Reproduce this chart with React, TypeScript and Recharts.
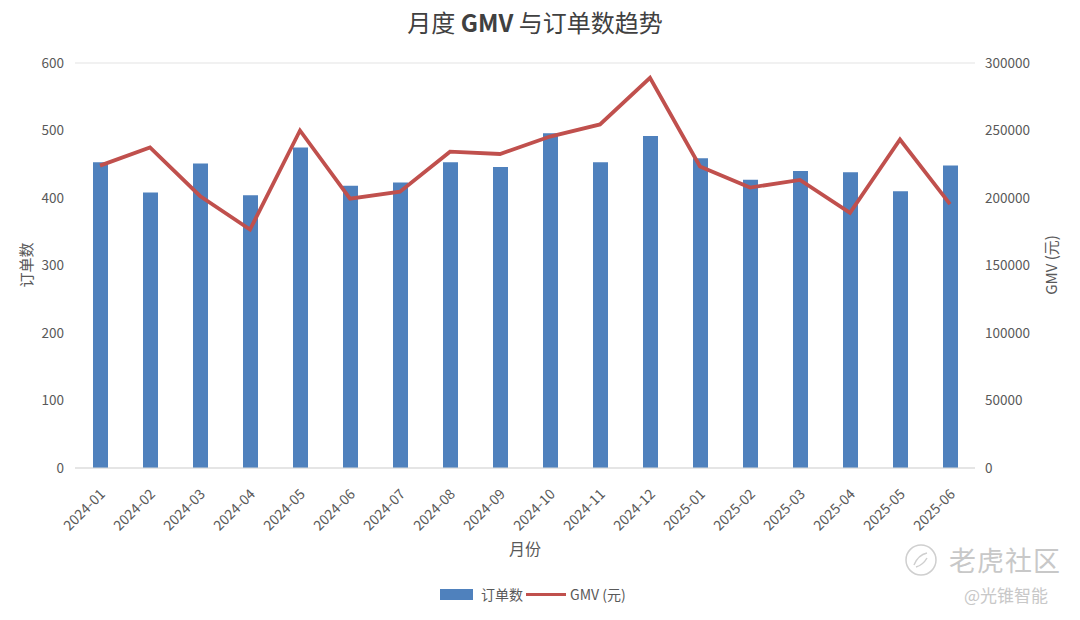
import {
  Bar,
  CartesianGrid,
  ComposedChart,
  Line,
  XAxis,
  YAxis
} from "recharts";

const months = [
  "2024-01", "2024-02", "2024-03", "2024-04", "2024-05", "2024-06",
  "2024-07", "2024-08", "2024-09", "2024-10", "2024-11", "2024-12",
  "2025-01", "2025-02", "2025-03", "2025-04", "2025-05", "2025-06"
];
const orders = [453, 408, 451, 404, 475, 418, 423, 453, 446, 496, 453, 492, 459, 427, 440, 438, 410, 448];
const gmv = [
  224000, 237500, 201500, 176600, 250000, 199500, 204700, 234300, 232600,
  245500, 254500, 289000, 223400, 207700, 213400, 189000, 243300, 195500
];
const orderTicks = [0, 100, 200, 300, 400, 500, 600];
const gmvTicks = [0, 50000, 100000, 150000, 200000, 250000, 300000];

const FONT = '"Noto Sans CJK SC", "Noto Sans", sans-serif';
const BLUE = "#4f81bd";
const RED = "#c0504d";
const TEXT = "#595959";

const data = months.map((m, i) => ({ month: m, orders: orders[i], gmv: gmv[i] }));

function MonthTick({ x, y, payload }: any): JSX.Element {
  return (
    <text
      x={x + 6}
      y={y + 19}
      transform={`rotate(-45, ${x + 6}, ${y + 19})`}
      textAnchor="end"
      fontSize={14}
      fill={TEXT}
      fontFamily={FONT}
    >
      {payload.value}
    </text>
  );
}

export default function App(): JSX.Element {
  return (
    <div style={{ position: "absolute", left: 0, top: 0, width: 1080, height: 620, background: "#fff", fontFamily: FONT }}>
      <div style={{ position: "absolute", top: 4, left: 0, width: 1070, textAlign: "center", fontSize: 24, color: "#404040" }}>
        月度 <b>GMV</b> 与订单数趋势
      </div>
      <ComposedChart width={1080} height={620} data={data} margin={{ top: 63, right: 12, bottom: 52, left: 12 }}>
        <CartesianGrid vertical={false} stroke="#e3e3e3" />
        <XAxis
          dataKey="month"
          interval={0}
          height={100}
          tickLine={false}
          axisLine={{ stroke: "#d9d9d9" }}
          tick={<MonthTick />}
        />
        <YAxis
          yAxisId="left"
          width={63}
          domain={[0, 600]}
          ticks={orderTicks}
          axisLine={false}
          tickLine={false}
          tickSize={0}
          tickMargin={11}
          tick={{ fontSize: 13.5, fill: TEXT, fontFamily: FONT }}
        />
        <YAxis
          yAxisId="right"
          orientation="right"
          width={93}
          domain={[0, 300000]}
          ticks={gmvTicks}
          axisLine={false}
          tickLine={false}
          tickSize={0}
          tickMargin={10}
          tick={{ fontSize: 13.5, fill: TEXT, fontFamily: FONT, textAnchor: "start" }}
        />
        <Bar yAxisId="left" dataKey="orders" name="订单数" fill={BLUE} barSize={15} isAnimationActive={false} />
        <Line
          yAxisId="right"
          dataKey="gmv"
          name="GMV (元)"
          stroke={RED}
          strokeWidth={3.8}
          dot={false}
          type="linear"
          isAnimationActive={false}
        />
      </ComposedChart>
      <div style={{ position: "absolute", left: 25, top: 265, transform: "translate(-50%, -50%) rotate(-90deg)", fontSize: 15, color: TEXT, whiteSpace: "nowrap" }}>
        订单数
      </div>
      <div style={{ position: "absolute", left: 1050, top: 265, transform: "translate(-50%, -50%) rotate(-90deg)", fontSize: 15, color: TEXT, whiteSpace: "nowrap" }}>
        GMV (元)
      </div>
      <div style={{ position: "absolute", left: 0, top: 536, width: 1050, textAlign: "center", fontSize: 16, color: TEXT }}>
        月份
      </div>
      <div style={{ position: "absolute", top: 584, left: 440, display: "flex", alignItems: "center", fontSize: 14, color: TEXT }}>
        <span style={{ display: "inline-block", width: 33, height: 11, background: BLUE, marginRight: 8 }} />
        <span>订单数</span>
        <span style={{ display: "inline-block", width: 40, height: 3, background: RED, margin: "0 4px 0 3px" }} />
        <span>GMV (元)</span>
      </div>
      <div style={{ position: "absolute", left: 904, top: 540, display: "flex", alignItems: "center", color: "#c8c8c8" }}>
        <svg width={34} height={34}>
          <circle cx={17} cy={17} r={15} fill="none" stroke="#cfcfcf" strokeWidth={1.5} />
          <path d="M10 22 Q14 12 23 10 M12 24 Q19 22 23 15" fill="none" stroke="#cfcfcf" strokeWidth={1.5} />
        </svg>
        <span style={{ marginLeft: 11, fontSize: 27, letterSpacing: 1 }}>老虎社区</span>
      </div>
      <div style={{ position: "absolute", left: 964, top: 582, fontSize: 17, color: "#c8c8c8" }}>
        @光锥智能
      </div>
    </div>
  );
}
